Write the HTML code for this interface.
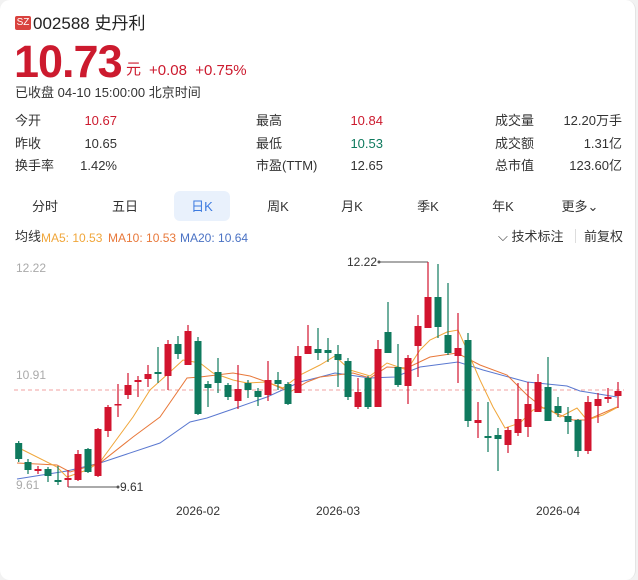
<!DOCTYPE html>
<html><head><meta charset="utf-8"><style>
*{margin:0;padding:0;box-sizing:border-box}
body{width:638px;height:580px;background:#f2f2f2;font-family:"Liberation Sans","Noto Sans CJK SC",sans-serif;color:#222;position:relative;overflow:hidden}
.card{position:absolute;left:0;top:0;width:636px;height:580px;background:#fff;border-radius:10px;border-right:1px solid #e4e4e4}
.a{position:absolute;white-space:nowrap;line-height:16px}
.l{font-size:13px;color:#333}
.v{font-size:13px;color:#333;text-align:right}
.tab{position:absolute;top:196px;font-size:13px;color:#333;width:56px;text-align:center;line-height:22px}
</style></head><body><div class="card">
<div class="a" style="left:15px;top:16px;width:16px;height:14px;background:#d9423e;color:#fff;font-size:10px;line-height:14px;text-align:center;border-radius:2px">SZ</div>
<div class="a" style="left:33px;top:14px;font-size:17px;line-height:20px;color:#222">002588 史丹利</div>
<div class="a" style="left:14px;top:38px;font-size:45px;line-height:48px;font-weight:bold;color:#cc1a2e;letter-spacing:-1px">10.73</div>
<div class="a" style="left:126px;top:62px;font-size:15px;color:#cc1a2e">元</div>
<div class="a" style="left:149px;top:63px;font-size:15px;color:#cc1a2e">+0.08 &nbsp;+0.75%</div>
<div class="a" style="left:15px;top:85px;font-size:13px;color:#333">已收盘 04-10 15:00:00 北京时间</div>

<div class="a l" style="left:15px;top:113px">今开</div><div class="a v" style="left:60px;width:57px;top:113px;color:#cc1a2e">10.67</div>
<div class="a l" style="left:15px;top:136px">昨收</div><div class="a v" style="left:60px;width:57px;top:136px">10.65</div>
<div class="a l" style="left:15px;top:158px">换手率</div><div class="a v" style="left:60px;width:57px;top:158px">1.42%</div>
<div class="a l" style="left:256px;top:113px">最高</div><div class="a v" style="left:320px;width:63px;top:113px;color:#cc1a2e">10.84</div>
<div class="a l" style="left:256px;top:136px">最低</div><div class="a v" style="left:320px;width:63px;top:136px;color:#0f7a5e">10.53</div>
<div class="a l" style="left:256px;top:158px">市盈(TTM)</div><div class="a v" style="left:320px;width:63px;top:158px">12.65</div>
<div class="a l" style="left:495px;top:113px">成交量</div><div class="a v" style="left:540px;width:82px;top:113px">12.20万手</div>
<div class="a l" style="left:495px;top:136px">成交额</div><div class="a v" style="left:540px;width:82px;top:136px">1.31亿</div>
<div class="a l" style="left:495px;top:158px">总市值</div><div class="a v" style="left:540px;width:82px;top:158px">123.60亿</div>

<div class="a" style="left:174px;top:191px;width:56px;height:30px;background:#e9f1fc;border-radius:6px"></div>
<div class="tab" style="left:17px">分时</div>
<div class="tab" style="left:97px">五日</div>
<div class="tab" style="left:174px;color:#3d7be0">日K</div>
<div class="tab" style="left:250px">周K</div>
<div class="tab" style="left:324px">月K</div>
<div class="tab" style="left:400px">季K</div>
<div class="tab" style="left:475px">年K</div>
<div class="tab" style="left:552px">更多⌄</div>

<div class="a" style="left:15px;top:229px;font-size:13px;color:#333">均线</div>
<div class="a" style="left:41px;top:230px;font-size:12px;color:#f0a63a">MA5: 10.53</div>
<div class="a" style="left:108px;top:230px;font-size:12px;color:#e8783a">MA10: 10.53</div>
<div class="a" style="left:180px;top:230px;font-size:12px;color:#4a72c4">MA20: 10.64</div>
<div class="a" style="left:498px;top:229px;font-size:13px;color:#333">⌵ 技术标注</div>
<div class="a" style="left:575px;top:229px;width:1px;height:14px;background:#ddd"></div>
<div class="a" style="left:584px;top:229px;font-size:13px;color:#333">前复权</div>

<svg class="a" style="left:0;top:0" width="638" height="580" font-family="Liberation Sans, sans-serif">
<line x1="14" y1="390" x2="624" y2="390" stroke="#f0a0a0" stroke-dasharray="4,3" stroke-width="1"/>
<text x="16" y="272" font-size="12" fill="#aaa">12.22</text>
<text x="16" y="379" font-size="12" fill="#aaa">10.91</text>
<text x="16" y="489" font-size="12" fill="#aaa">9.61</text>
<text x="198" y="515" font-size="12" fill="#333" text-anchor="middle">2026-02</text>
<text x="338" y="515" font-size="12" fill="#333" text-anchor="middle">2026-03</text>
<text x="558" y="515" font-size="12" fill="#333" text-anchor="middle">2026-04</text>
<polyline fill="none" stroke="#5a78d0" stroke-width="1" points="17,479 67,471 100,463 160,443 190,422 207,418 233,409 267,397 300,382 320,377 335,373 370,378 395,377 420,367 458,362 483,370 527,382 567,386 580,391 617,397"/>
<polyline fill="none" stroke="#e8783a" stroke-width="1" points="17,463 57,465 70,472 100,463 133,437 160,417 187,378 200,377 233,373 250,376 267,382 290,392 307,382 320,377 353,373 370,378 387,367 407,368 430,357 457,353 480,365 507,375 527,395 543,408 560,415 573,420 587,420 617,407"/>
<polyline fill="none" stroke="#f0a63a" stroke-width="1" points="17,447 57,467 67,477 87,470 100,462 133,417 150,390 170,372 183,360 200,363 213,373 233,380 247,383 267,382 283,388 300,375 320,365 335,356 350,370 370,376 387,363 407,370 420,350 430,340 447,332 458,330 467,350 480,380 493,407 505,428 520,423 533,410 547,407 560,417 577,408 587,420 603,415 618,407"/>
<line x1="68" y1="480" x2="68" y2="487" stroke="#555"/>
<line x1="68" y1="487" x2="118" y2="487" stroke="#555"/><circle cx="118" cy="487" r="1.5" fill="#555"/>
<text x="120" y="491" font-size="12" fill="#333">9.61</text>
<line x1="379" y1="262" x2="428" y2="262" stroke="#555"/><circle cx="379" cy="262" r="1.5" fill="#555"/>
<text x="347" y="266" font-size="12" fill="#333">12.22</text>
<g id="k">
</g>
</svg>
<script>
var R="#d2142e",G="#0f7a5e";
var d=[
[18.7,G,443,459,441,462],[28,G,462,470,459,474],[38,R,469,471,466,474],[48,G,469,476,467,482],[58,G,480,482,466,485],[68,R,478,480,470,487],
[78,R,454,480,450,481],[88,G,449,472,448,473],[98,R,429,476,428,477],[108,R,407,431,405,437],[118,R,404,405,384,417],[128,R,385,395,373,399],
[138,R,380,382,376,397],[148,R,374,379,365,387],[158,G,372,374,347,383],[168,R,344,376,340,390],[178,G,344,354,336,359],[188,R,331,365,325,365],
[198,G,341,414,337,415],[208,G,384,388,381,407],[218,G,372,383,358,393],[228,G,385,397,383,400],[238,R,389,401,365,409],[248,G,383,390,380,398],
[258,G,391,397,388,406],[268,R,380,395,361,401],[278,G,380,384,372,390],[288,G,384,404,382,405],[298,R,356,393,346,393],[308,R,346,354,325,354],
[318,G,349,353,328,360],[328,G,350,353,338,362],[338,G,354,360,345,387],[348,G,361,397,358,400],[358,R,392,407,378,409],[368,G,378,407,376,409],
[378,R,349,407,340,407],[388,G,332,353,302,353],[398,G,367,385,344,387],[408,R,358,386,355,404],[418,R,326,346,315,377],[428,R,297,328,262,328],
[438,G,297,327,264,338],[448,G,335,353,283,355],[458,R,348,356,313,383],[468,G,340,421,333,427],[478,R,420,423,402,438],[488,G,436,438,402,452],
[498,G,435,439,428,471],[508,R,430,445,427,453],[518,R,419,433,383,436],[528,R,404,427,382,437],[538,R,382,412,374,412],[548,G,387,421,357,421],
[558,G,406,413,397,417],[568,G,416,422,407,434],[578,G,420,451,419,457],[588,R,402,451,396,454],[598,R,399,406,393,423],[608,R,397,399,388,403],[618,R,391,396,382,408]];
var s="";d.forEach(function(c){var x=c[0];s+='<line x1="'+x+'" y1="'+c[4]+'" x2="'+x+'" y2="'+c[5]+'" stroke="'+c[1]+'" stroke-width="1.2"/>';s+='<rect x="'+(x-3.5)+'" y="'+c[2]+'" width="7" height="'+Math.max(1.5,c[3]-c[2])+'" fill="'+c[1]+'"/>';});
document.getElementById("k").innerHTML=s;
</script>
</div></body></html>
